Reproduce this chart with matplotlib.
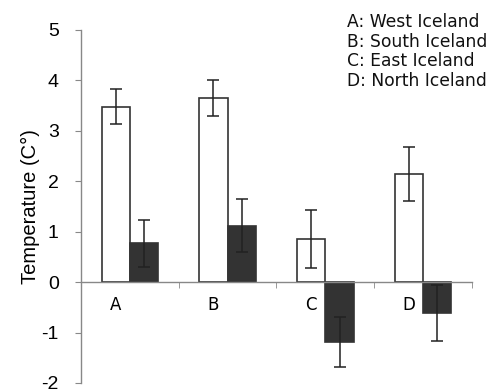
import numpy as np
import matplotlib.pyplot as plt

# region labels and legend text
cats = ["A", "B", "C", "D"]
regions = ["A: West Iceland", "B: South Iceland", "C: East Iceland", "D: North Iceland"]

# white bars / dark bars and their error
white_vals = [3.48, 3.65, 0.86, 2.14]
white_err = [0.35, 0.36, 0.58, 0.53]
dark_vals = [0.77, 1.12, -1.19, -0.61]
dark_err = [0.47, 0.52, 0.50, 0.56]

x = np.arange(len(cats))
w = 0.29

fig = plt.figure(figsize=(4.95, 3.92), dpi=100)
ax = fig.add_axes([0.1636, 0.023, 0.7899, 0.9005])

ekw = dict(ecolor="#222222", elinewidth=1.1, capsize=4.5, capthick=1.1)
ax.bar(x - w, white_vals, w, align="edge", color="white", edgecolor="#333333",
       linewidth=1.2, yerr=white_err, error_kw=ekw)
ax.bar(x, dark_vals, w, align="edge", color="#333333", edgecolor="#333333",
       linewidth=1.2, yerr=dark_err, error_kw=ekw)

ax.set_xlim(-0.5, 3.5)
ax.set_ylim(-2, 5)
ax.set_yticks(range(-2, 6))
ax.set_yticklabels([str(v) for v in range(-2, 6)], family="Liberation Sans", fontsize=14)

ax.spines["top"].set_visible(False)
ax.spines["right"].set_visible(False)
ax.spines["bottom"].set_position(("data", 0))
for s in ["left", "bottom"]:
    ax.spines[s].set_color("#888888")
    ax.spines[s].set_linewidth(1.0)

ax.set_xticks(x - w / 2)
ax.set_xticklabels(cats, fontsize=12, family="DejaVu Sans")
ax.set_xticks(np.arange(-0.5, 4.0, 1.0)[1:], minor=True)
ax.tick_params(axis="x", which="major", length=0, pad=10)
ax.tick_params(axis="x", which="minor", length=4, color="#888888", direction="out")
ax.tick_params(axis="y", length=4, color="#888888", pad=12)

ax.set_ylabel("Temperature (C°)", family="Liberation Sans", fontsize=14.5, labelpad=1)

for i, t in enumerate(regions):
    fig.text(0.701, 0.966 - i * 0.0495, t, fontsize=12.3, family="DejaVu Sans",
             ha="left", va="top", color="#111111")

fig.savefig("out.png", dpi=100)
